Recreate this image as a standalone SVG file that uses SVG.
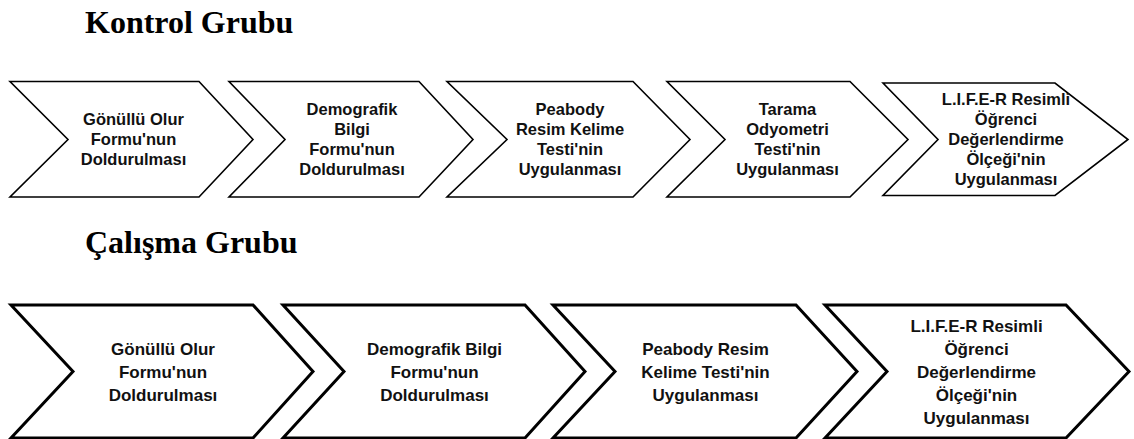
<svg xmlns="http://www.w3.org/2000/svg" width="1134" height="439" viewBox="0 0 1134 439">
<style>
.bg{fill:#ffffff}
.title{font-family:"Liberation Serif","Times New Roman",serif;font-weight:bold;font-size:32px;fill:#000}
.c1{fill:#fff;stroke:#000;stroke-width:1.6;stroke-linejoin:miter}
.c2{fill:#fff;stroke:#000;stroke-width:3;stroke-linejoin:miter}
.t1{font-family:"Liberation Sans",Arial,sans-serif;font-weight:bold;font-size:16.5px;fill:#111;text-anchor:middle}
.t2{font-family:"Liberation Sans",Arial,sans-serif;font-weight:bold;font-size:17px;fill:#111;text-anchor:middle}
</style>
<rect class="bg" x="0" y="0" width="1134" height="439"/>
<text class="title" x="85" y="33">Kontrol Grubu</text>
<text class="title" x="85" y="253">Çalışma Grubu</text>
<g id="connectors"></g>
<g id="k1">
<polygon class="c1" points="10,81.5 199,81.5 253,139.5 199,197 10,197 68,139.5"/>
<text class="t1" x="133.5"><tspan x="133.5" y="125">Gönüllü Olur</tspan><tspan x="133.5" y="145">Formu'nun</tspan><tspan x="133.5" y="165">Doldurulması</tspan></text>
</g>
<g id="k2">
<polygon class="c1" points="229,81.5 419,81.5 473,139.5 419,197 229,197 285,139.5"/>
<text class="t1" x="352"><tspan x="352" y="115">Demografik</tspan><tspan x="352" y="135">Bilgi</tspan><tspan x="352" y="155">Formu'nun</tspan><tspan x="352" y="175">Doldurulması</tspan></text>
</g>
<g id="k3">
<polygon class="c1" points="447,81.5 633,81.5 690,139.5 633,197 447,197 507,139.5"/>
<text class="t1" x="570"><tspan x="570" y="115">Peabody</tspan><tspan x="570" y="135">Resim Kelime</tspan><tspan x="570" y="155">Testi'nin</tspan><tspan x="570" y="175">Uygulanması</tspan></text>
</g>
<g id="k4">
<polygon class="c1" points="667,81.5 850,81.5 908,139.5 850,197 667,197 725,139.5"/>
<text class="t1" x="787.5"><tspan x="787.5" y="115">Tarama</tspan><tspan x="787.5" y="135">Odyometri</tspan><tspan x="787.5" y="155">Testi'nin</tspan><tspan x="787.5" y="175">Uygulanması</tspan></text>
</g>
<g id="k5">
<polygon class="c1" points="883,83 1055,83 1128,139.5 1055,195.5 883,195.5 938,139.5"/>
<text class="t1" x="1006"><tspan x="1006" y="105">L.I.F.E-R Resimli</tspan><tspan x="1006" y="125">Öğrenci</tspan><tspan x="1006" y="145">Değerlendirme</tspan><tspan x="1006" y="165">Ölçeği'nin</tspan><tspan x="1006" y="185">Uygulanması</tspan></text>
</g>
<g id="c1n">
<polygon class="c2" points="11,305 253,305 313,371.5 253,438 11,438 73,371.5"/>
<text class="t2" x="163"><tspan x="163" y="355">Gönüllü Olur</tspan><tspan x="163" y="378">Formu'nun</tspan><tspan x="163" y="401">Doldurulması</tspan></text>
</g>
<g id="c2n">
<polygon class="c2" points="283,305 525,305 585,371.5 525,438 283,438 344,371.5"/>
<text class="t2" x="434.5"><tspan x="434.5" y="355">Demografik Bilgi</tspan><tspan x="434.5" y="378">Formu'nun</tspan><tspan x="434.5" y="401">Doldurulması</tspan></text>
</g>
<g id="c3n">
<polygon class="c2" points="553,305 796,305 857,371.5 796,438 553,438 615,371.5"/>
<text class="t2" x="705.5"><tspan x="705.5" y="355">Peabody Resim</tspan><tspan x="705.5" y="378">Kelime Testi'nin</tspan><tspan x="705.5" y="401">Uygulanması</tspan></text>
</g>
<g id="c4n">
<polygon class="c2" points="825,305 1066,305 1129,371.5 1066,438 825,438 887,371.5"/>
<text class="t2" x="976.5"><tspan x="976.5" y="332">L.I.F.E-R Resimli</tspan><tspan x="976.5" y="355">Öğrenci</tspan><tspan x="976.5" y="378">Değerlendirme</tspan><tspan x="976.5" y="401">Ölçeği'nin</tspan><tspan x="976.5" y="424">Uygulanması</tspan></text>
</g>
</svg>
